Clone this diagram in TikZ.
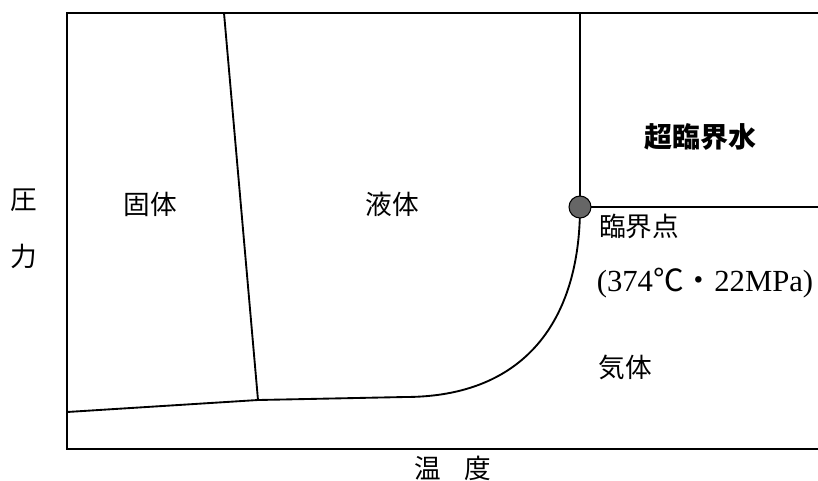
\documentclass[tikz,border=0pt]{standalone}
\usepackage{fontspec}
\setmainfont{Liberation Serif}
\newfontfamily\cjk{Noto Sans CJK JP}
\begin{document}
\begin{tikzpicture}[x=0.75pt,y=-0.75pt,
  lbl/.style={inner sep=0pt,font=\cjk\fontsize{20}{24}\selectfont},
  bline/.style={line width=1.4pt,line join=round},
  frameline/.style={line width=1.2pt}]
\useasboundingbox (0,0) rectangle (818,480);
% frame
\coordinate (tl) at (67,13);
\coordinate (bl) at (67,449);
\coordinate (tr) at (818,13);
\coordinate (br) at (818,449);
\draw[frameline] (tr) -- (tl) -- (bl) -- (br);
% phase lines
\coordinate (melttop) at (224,13);
\coordinate (triple) at (258,400);
\coordinate (subl) at (67,412);
\coordinate (bend) at (405,397);
\coordinate (crit) at (580,207);
\coordinate (crittop) at (580,13);
\coordinate (critright) at (818,207);
\draw[bline] (melttop) -- (triple);
\draw[bline] (subl) -- (triple);
\draw[bline] (triple) -- (bend) .. controls (525,397) and (580,320) .. (crit);
\draw[bline] (crittop) -- (crit) -- (critright);
\node[circle,draw=black,line width=0.8pt,fill=black!60,minimum size=16.5pt,inner sep=0pt] (cp) at (crit) {};
% labels
\node[lbl] (solid) at (150,204) {固体};
\node[lbl] (liquid) at (392,204) {液体};
\node[lbl,font=\cjk\bfseries\fontsize{21}{25}\selectfont] (scw) at (700,137) {超臨界水};
\node[lbl] (cpl) at (639,226) {臨界点};
\node[inner sep=0pt,font=\fontsize{23}{27}\selectfont] (cpv) at (705,283) {(374{\cjk ℃}{\cjk ・}22MPa)};
\node[lbl] (gas) at (625,367) {気体};
\node[lbl] (p1) at (24,200) {圧};
\node[lbl] (p2) at (24,256) {力};
\node[lbl] (temp) at (453,468) {温\hspace{0.9em}度};
\end{tikzpicture}
\end{document}
